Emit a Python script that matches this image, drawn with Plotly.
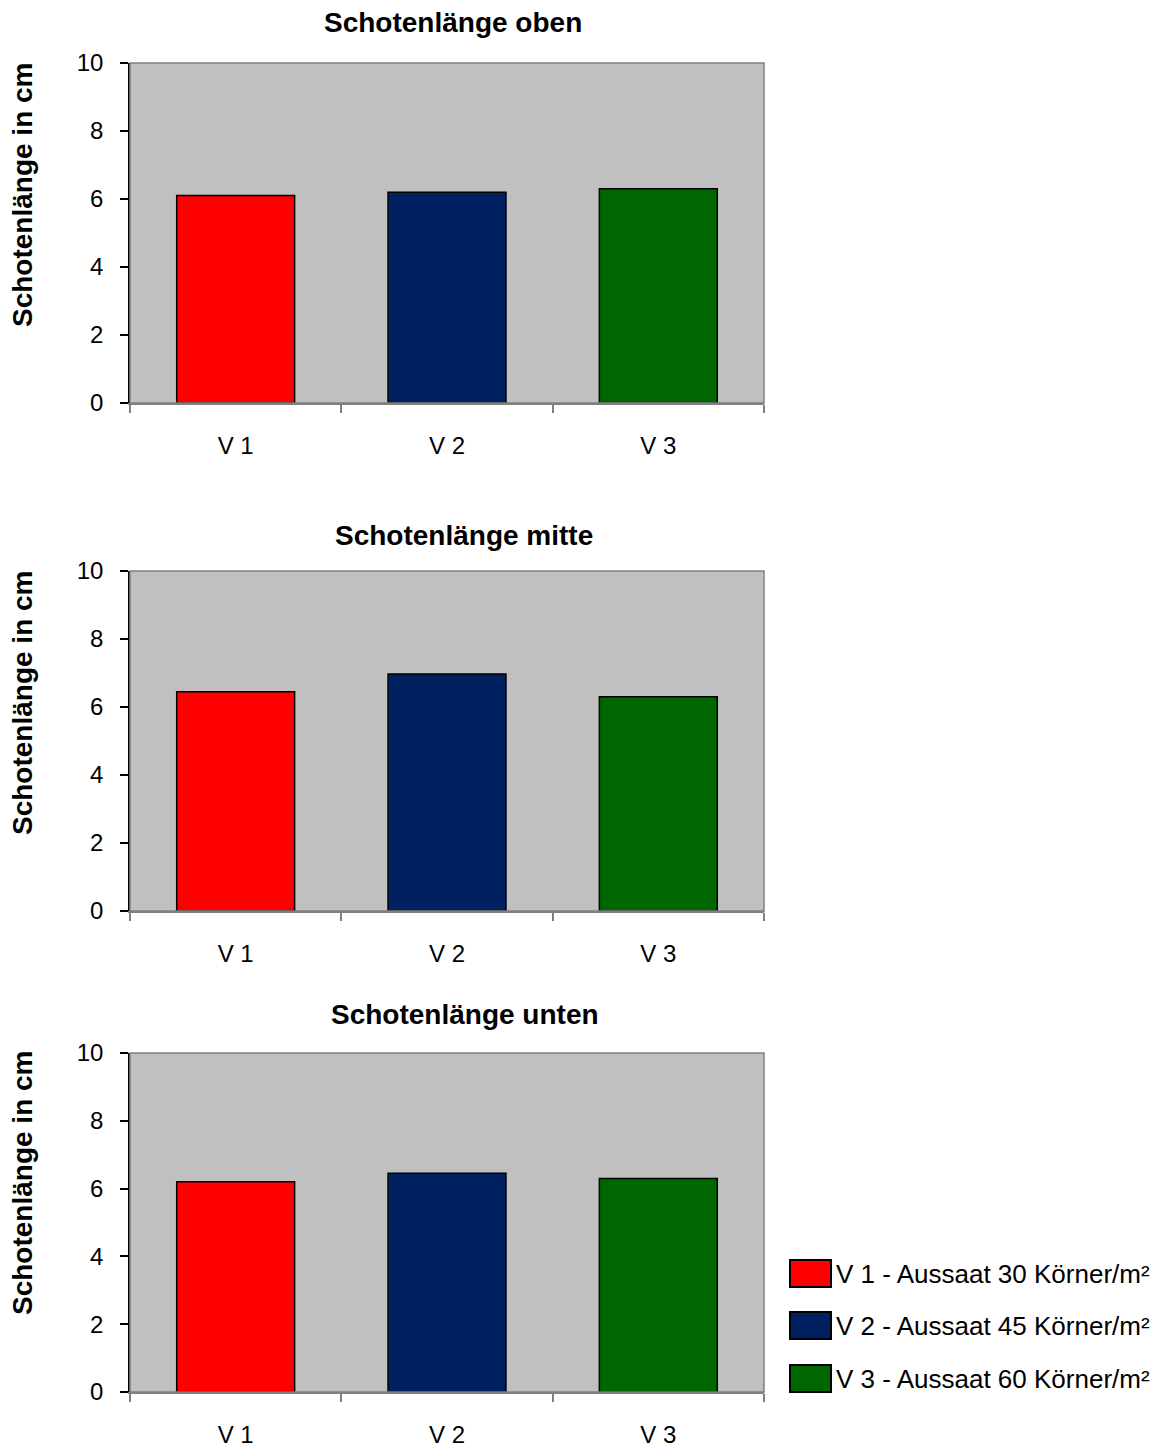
import plotly.graph_objects as go

# Schotenlänge (cm) per Variante, je Schotenposition
categories = ["V 1", "V 2", "V 3"]
legend_labels = [
    "V 1 - Aussaat 30 Körner/m²",
    "V 2 - Aussaat 45 Körner/m²",
    "V 3 - Aussaat 60 Körner/m²",
]
panel_titles = ["Schotenlänge oben", "Schotenlänge mitte", "Schotenlänge unten"]
oben = [6.1, 6.2, 6.3]
mitte = [6.45, 6.97, 6.3]
unten = [6.2, 6.45, 6.3]
y_ticks = [0, 2, 4, 6, 8, 10]

colors = ["#FF0000", "#002060", "#006600"]
panels = [oben, mitte, unten]

W, H = 1168, 1449
FONT = "Liberation Sans, Arial, sans-serif"

# pixel layout of each plot area (top, bottom) and the shared left/right edges
x_left, x_right = 130, 764
panel_px = [(63, 403), (571, 911), (1053, 1392)]
title_px = [(453, 22), (464, 535), (465, 1014)]
ytitle_cy = [195, 703, 1183]

fig = go.Figure()
pos = list(range(len(categories)))

for p, values in enumerate(panels):
    ax = "" if p == 0 else str(p + 1)
    for i, v in enumerate(values):
        fig.add_trace(go.Bar(
            x=[pos[i]], y=[v],
            xaxis="x" + ax, yaxis="y" + ax,
            width=0.558,
            marker=dict(color=colors[i], line=dict(color="black", width=1.5)),
            showlegend=False,
            hoverinfo="skip",
        ))

layout = dict(
    width=W, height=H,
    margin=dict(l=0, r=0, t=0, b=0, autoexpand=False),
    paper_bgcolor="white",
    plot_bgcolor="#C0C0C0",
    barmode="overlay",
    font=dict(family=FONT, color="black", size=24),
    showlegend=False,
)

shapes = []
annotations = []
for p in range(3):
    ax = "" if p == 0 else str(p + 1)
    top, bot = panel_px[p]
    ydom = [(H - bot) / H, (H - top) / H]
    layout["xaxis" + ax] = dict(
        domain=[x_left / W, x_right / W],
        anchor="y" + ax,
        automargin=False,
        range=[-0.5, 2.5],
        tickmode="array", tickvals=pos, ticktext=categories,
        ticks="", ticklabelstandoff=20,
        showgrid=False, zeroline=False,
        showline=True, linecolor="#808080", linewidth=1.5,
        tickfont=dict(size=24),
        minor=dict(tickmode="array", tickvals=[-0.5, 0.5, 1.5, 2.5],
                   ticks="outside", ticklen=8, tickcolor="#808080", tickwidth=1.5,
                   showgrid=False),
        fixedrange=True,
    )
    layout["yaxis" + ax] = dict(
        domain=ydom,
        anchor="x" + ax,
        automargin=False,
        range=[0, 10],
        tickmode="array", tickvals=y_ticks,
        ticks="outside", ticklen=8, tickcolor="black", tickwidth=1.5,
        ticklabelstandoff=12,
        showgrid=False, zeroline=False,
        showline=True, linecolor="black", linewidth=1.5,
        tickfont=dict(size=24),
        fixedrange=True,
    )
    # plot-area frame (top and right edges in gray)
    shapes.append(dict(type="rect", xref="x" + ax + " domain", yref="y" + ax + " domain",
                       x0=0, x1=1, y0=0, y1=1,
                       line=dict(color="#808080", width=1.5), layer="above"))
    tx, ty = title_px[p]
    annotations.append(dict(text="<b>" + panel_titles[p] + "</b>", xref="paper", yref="paper",
                            x=tx / W, y=(H - ty) / H, xanchor="center", yanchor="middle",
                            showarrow=False, font=dict(size=28)))
    annotations.append(dict(text="<b>Schotenlänge in cm</b>", xref="paper", yref="paper",
                            x=22 / W, y=(H - ytitle_cy[p]) / H, xanchor="center", yanchor="middle",
                            textangle=-90, showarrow=False, font=dict(size=28)))

# legend: colored boxes with labels
legend_y = [1273.5, 1325.5, 1378.5]
for i, lbl in enumerate(legend_labels):
    cy = legend_y[i]
    shapes.append(dict(type="rect", xref="paper", yref="paper",
                       x0=790 / W, x1=831 / W, y0=(H - cy - 13.5) / H, y1=(H - cy + 13.5) / H,
                       fillcolor=colors[i], line=dict(color="black", width=2)))
    annotations.append(dict(text=lbl, xref="paper", yref="paper",
                            x=834 / W, y=(H - cy) / H, xanchor="left", yanchor="middle",
                            showarrow=False, font=dict(size=26)))

layout["shapes"] = shapes
layout["annotations"] = annotations
fig.update_layout(**layout)

fig.write_html("out.html", config={"displayModeBar": False})
